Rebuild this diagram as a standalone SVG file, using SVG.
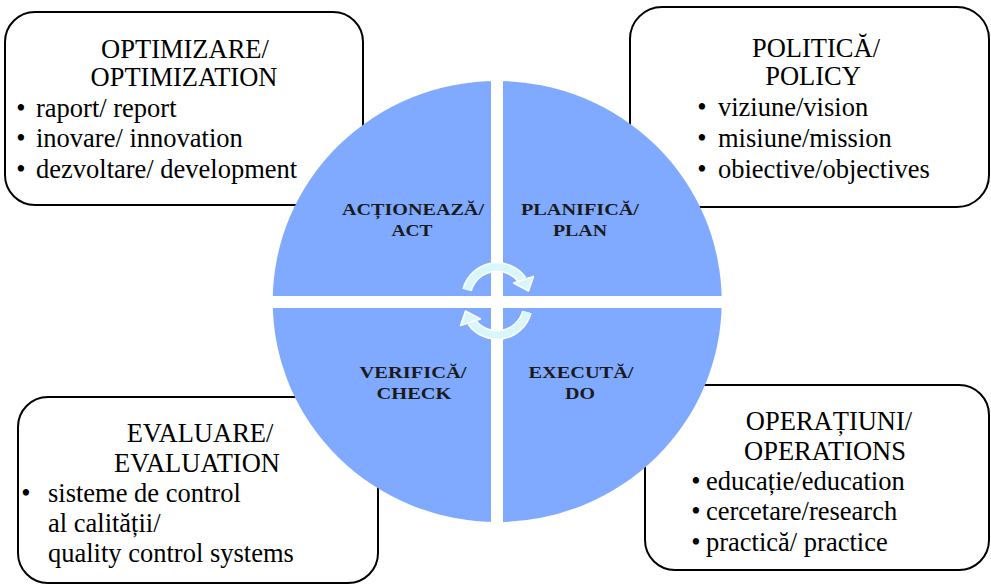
<svg xmlns="http://www.w3.org/2000/svg" width="991" height="585" viewBox="0 0 991 585">
<style>
.box{fill:#ffffff;stroke:#000000;stroke-width:2}
.t{font-family:'Liberation Serif','DejaVu Serif',serif;font-weight:normal;font-size:26.5px;fill:#000000}
.c{text-anchor:middle}
.q{font-family:'Liberation Serif','DejaVu Serif',serif;font-size:17.5px;font-weight:bold;fill:#1a1a1a;text-anchor:middle}
.arcw{fill:none;stroke:#ffffff;stroke-width:10}
.arcc{fill:none;stroke:#d8f7fb;stroke-width:7}
.head{fill:#d8f7fb;stroke:#ffffff;stroke-width:1.5;stroke-linejoin:round}
</style>
<rect width="991" height="585" fill="#ffffff"/>

<g id="box-optimization" font-family="Liberation Serif, serif">
<rect class="box" x="5" y="12" width="358" height="193" rx="30"/>
<text class="t c" x="185" y="58">OPTIMIZARE/</text>
<text class="t c" x="184" y="86">OPTIMIZATION</text>
<text class="t c" x="21" y="117">•</text><text class="t" x="36" y="117">raport/ report</text>
<text class="t c" x="21" y="147">•</text><text class="t" x="36" y="147">inovare/ innovation</text>
<text class="t c" x="21" y="178">•</text><text class="t" x="36" y="178">dezvoltare/ development</text>
</g>

<g id="box-policy" font-family="Liberation Serif, serif">
<rect class="box" x="630" y="7" width="359" height="200" rx="32"/>
<text class="t c" x="816" y="57">POLITICĂ/</text>
<text class="t c" x="813" y="85">POLICY</text>
<text class="t c" x="702" y="116">•</text><text class="t" x="718" y="116">viziune/vision</text>
<text class="t c" x="702" y="147">•</text><text class="t" x="718" y="147">misiune/mission</text>
<text class="t c" x="702" y="178">•</text><text class="t" x="718" y="178">obiective/objectives</text>
</g>

<g id="box-evaluation" font-family="Liberation Serif, serif">
<rect class="box" x="18" y="397" width="360" height="186" rx="30"/>
<text class="t c" x="200" y="442">EVALUARE/</text>
<text class="t c" x="197" y="472">EVALUATION</text>
<text class="t c" x="26" y="502">•</text><text class="t" x="48" y="502">sisteme de control</text>
<text class="t" x="48" y="532">al calității/</text>
<text class="t" x="48" y="562">quality control systems</text>
</g>

<g id="box-operations" font-family="Liberation Serif, serif">
<rect class="box" x="645" y="385" width="344" height="185" rx="30"/>
<text class="t c" x="829" y="430">OPERAȚIUNI/</text>
<text class="t c" x="825" y="460">OPERATIONS</text>
<text class="t c" x="696" y="490">•</text><text class="t" x="706" y="490">educație/education</text>
<text class="t c" x="696" y="520">•</text><text class="t" x="706" y="520">cercetare/research</text>
<text class="t c" x="696" y="551">•</text><text class="t" x="706" y="551">practică/ practice</text>
</g>

<g id="cycle">
<ellipse cx="497.2" cy="301.5" rx="224.5" ry="220.5" fill="#7faaff"/>
<rect x="491" y="78" width="12" height="448" fill="#ffffff"/>
<rect x="270" y="296" width="455" height="12" fill="#ffffff"/>
</g>

<g id="quadrant-act">
<text class="q" x="413" y="215" textLength="142" lengthAdjust="spacingAndGlyphs">ACȚIONEAZĂ/</text>
<text class="q" x="412" y="236" textLength="41" lengthAdjust="spacingAndGlyphs">ACT</text>
</g>
<g id="quadrant-plan">
<text class="q" x="580" y="215" textLength="118" lengthAdjust="spacingAndGlyphs">PLANIFICĂ/</text>
<text class="q" x="580" y="236" textLength="54" lengthAdjust="spacingAndGlyphs">PLAN</text>
</g>
<g id="quadrant-check">
<text class="q" x="413" y="378" textLength="107" lengthAdjust="spacingAndGlyphs">VERIFICĂ/</text>
<text class="q" x="414" y="399" textLength="75" lengthAdjust="spacingAndGlyphs">CHECK</text>
</g>
<g id="quadrant-do">
<text class="q" x="581" y="378" textLength="105" lengthAdjust="spacingAndGlyphs">EXECUTĂ/</text>
<text class="q" x="580" y="399" textLength="30" lengthAdjust="spacingAndGlyphs">DO</text>
</g>

<g id="connectors">
<g id="arrow-top">
<path class="arcw" d="M467.1,290 A31,31 0 0 1 522.4,280.2"/>
<path class="arcc" d="M467.1,290 A31,31 0 0 1 522.4,280.2"/>
<polygon class="head" points="513.5,283 533.5,276.5 528.5,291"/>
</g>
<g id="arrow-bottom" transform="rotate(180 497 301)">
<path class="arcw" d="M467.1,290 A31,31 0 0 1 522.4,280.2"/>
<path class="arcc" d="M467.1,290 A31,31 0 0 1 522.4,280.2"/>
<polygon class="head" points="513.5,283 533.5,276.5 528.5,291"/>
</g>
</g>
</svg>
